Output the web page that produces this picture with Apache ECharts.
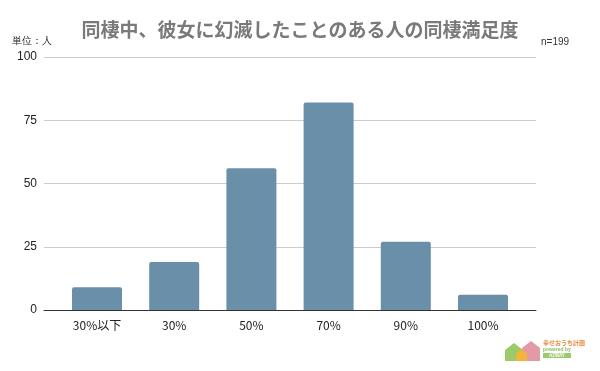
<!DOCTYPE html>
<html><head><meta charset="utf-8">
<script src="https://cdn.jsdelivr.net/npm/echarts@6/dist/echarts.min.js"></script>
<style>html,body{margin:0;padding:0;background:#fff}#c{width:600px;height:371px}</style>
</head><body><div id="c"></div>
<script>
const categories = ['30%以下', '30%', '50%', '70%', '90%', '100%'];
const counts = [9, 19, 56, 82, 27, 6];
const yTicks = [0, 25, 50, 75, 100];
const titleText = '同棲中、彼女に幻滅したことのある人の同棲満足度';
const unitText = '単位：人';
const nText = 'n=199';

const chart = echarts.init(document.getElementById('c'), null, {renderer: 'canvas'});
const font = '"Noto Sans CJK JP", "Liberation Sans", sans-serif';
chart.setOption({
  animation: false,
  backgroundColor: '#fff',
  textStyle: {fontFamily: font},
  title: {
    text: titleText, left: 'center', top: 15,
    textStyle: {fontSize: 19, fontWeight: 'bold', color: '#7a7a7a', fontFamily: font}
  },
  grid: [
    {left: 44, right: 64, top: 57, bottom: 61},
    {left: 58.4, right: 78.4, top: 57, bottom: 61}
  ],
  xAxis: [
    {gridIndex: 0, type: 'value', min: 0, max: 1, show: true,
     axisLine: {show: true, onZero: false, lineStyle: {color: '#333', width: 1}},
     axisTick: {show: false}, axisLabel: {show: false}, splitLine: {show: false}},
    {gridIndex: 1, type: 'category', data: categories,
     axisLine: {show: false}, axisTick: {show: false},
     axisLabel: {margin: 9, fontSize: 12, color: '#222', fontFamily: font}}
  ],
  yAxis: [
    {gridIndex: 0, type: 'value', min: yTicks[0], max: yTicks[yTicks.length-1], interval: 25,
     axisLine: {show: false}, axisTick: {show: false},
     axisLabel: {margin: 7, fontSize: 12, color: '#222', fontFamily: '"Liberation Sans", sans-serif'},
     splitLine: {lineStyle: {color: '#ccc', width: 1}}},
    {gridIndex: 1, type: 'value', min: 0, max: 100, show: false, splitLine: {show: false}}
  ],
  series: [{
    type: 'bar', xAxisIndex: 1, yAxisIndex: 1, data: counts, barWidth: 50,
    itemStyle: {color: '#6a8fa9', borderRadius: [2, 2, 0, 0]}
  }],
  graphic: [
    {type: 'text', left: 12, top: 36, style: {text: unitText, fontSize: 10, fill: '#222', font: '10px ' + font}},
    {type: 'text', left: 541, top: 37, style: {text: nText, fill: '#333', font: '10px "Liberation Sans", sans-serif'}},
    // logo
    {type: 'polygon', shape: {points: [[505,350],[514,343],[523,350],[523,361],[505,361]]}, style: {fill: '#9cc96b'}},
    {type: 'polygon', shape: {points: [[522,348],[531,341],[540,348],[540,361],[522,361]]}, style: {fill: '#e39aa6'}},
    {type: 'polygon', shape: {points: [[516,354],[521.5,349],[527,354],[527,361],[516,361]]}, style: {fill: '#f2b53c'}},
    {type: 'text', left: 543, top: 340, style: {text: '幸せおうち計画', fill: '#e8893a', font: 'bold 6px ' + font}},
    {type: 'text', left: 543, top: 347, style: {text: 'powered by', fill: '#8dbb5a', font: 'bold 5px "Liberation Sans", sans-serif'}},
    {type: 'rect', shape: {x: 543, y: 353, width: 28, height: 5}, style: {fill: '#9cc96b'}},
    {type: 'text', left: 549, top: 353.3, style: {text: 'AZWAY', fill: '#fff', font: 'bold 4.5px "Liberation Sans", sans-serif'}}
  ]
});
</script></body></html>
